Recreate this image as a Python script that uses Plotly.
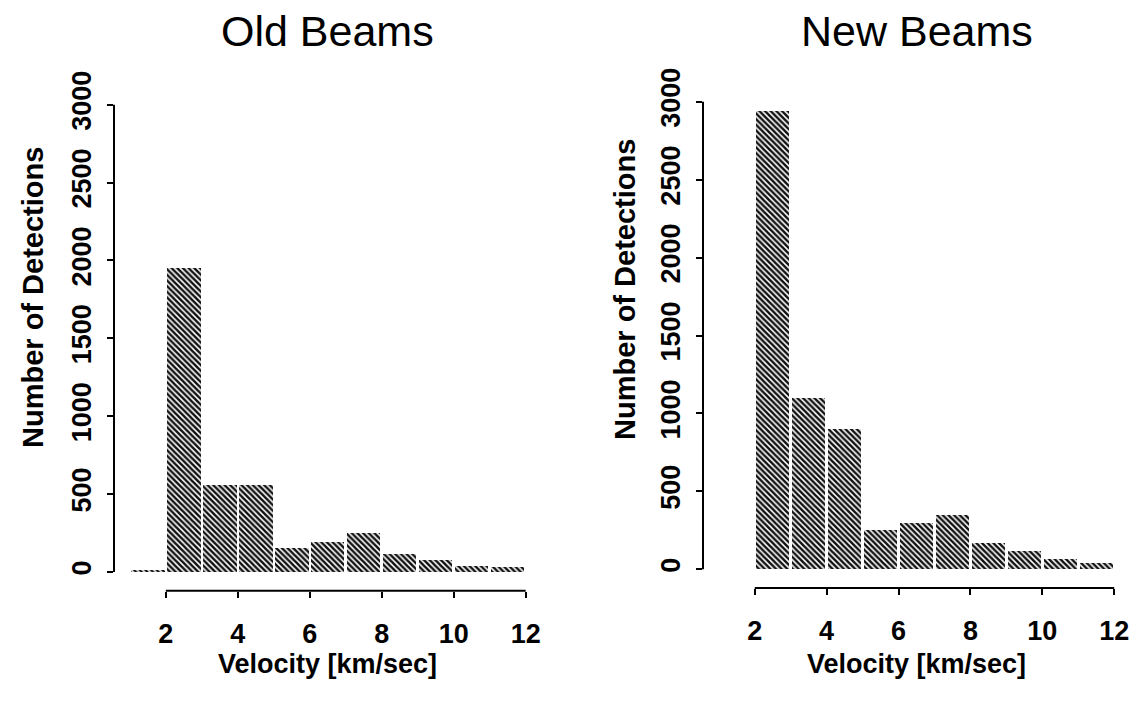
import plotly.graph_objects as go

# ---- data ----
old_bin_edges = [1, 2, 3, 4, 5, 6, 7, 8, 9, 10, 11, 12]
old_counts = [15, 1950, 560, 560, 152, 195, 250, 118, 75, 37, 32]

new_bin_edges = [2, 3, 4, 5, 6, 7, 8, 9, 10, 11, 12]
new_counts = [2940, 1100, 898, 250, 295, 348, 167, 117, 64, 42]

x_ticks = [2, 4, 6, 8, 10, 12]
y_ticks = [0, 500, 1000, 1500, 2000, 2500, 3000]

titles = ["Old Beams", "New Beams"]
x_title = "Velocity [km/sec]"
y_title = "Number of Detections"

# ---- styling ----
FONT = "Liberation Sans"
X_RANGE = [0.56, 12.44]
Y_RANGE = [-120, 3120]
W, H = 1139, 704


def centers(edges):
    return [(a + b) / 2 for a, b in zip(edges[:-1], edges[1:])]


def widths(edges):
    return [b - a for a, b in zip(edges[:-1], edges[1:])]


bar_marker = dict(
    color="#111111",
    line=dict(width=0),
    pattern=dict(shape="\\", fgcolor="#111111", bgcolor="#ffffff",
                 size=4, solidity=0.62, fillmode="replace"),
)

fig = go.Figure()
fig.add_trace(go.Bar(x=centers(old_bin_edges), y=old_counts,
                     width=[w * 0.93 for w in widths(old_bin_edges)],
                     marker=bar_marker, xaxis="x", yaxis="y", showlegend=False))
fig.add_trace(go.Bar(x=centers(new_bin_edges), y=new_counts,
                     width=[w * 0.93 for w in widths(new_bin_edges)],
                     marker=bar_marker, xaxis="x2", yaxis="y2", showlegend=False))

dom_x1 = [114 / W, 541.5 / W]
dom_x2 = [703 / W, 1130 / W]
dom_y1 = [(H - 590.7) / H, (H - 86) / H]
dom_y2 = [(H - 588) / H, (H - 83) / H]

tickfont = dict(family=FONT, size=27, color="black", weight="bold")
common_x = dict(range=X_RANGE, tickvals=x_ticks, ticks="outside", ticklen=6,
                tickwidth=2, tickcolor="black", showline=False, showgrid=False,
                zeroline=False, tickfont=tickfont, ticklabelstandoff=13,
                automargin=False)
common_y = dict(range=Y_RANGE, tickvals=y_ticks, ticks="outside", ticklen=6,
                tickwidth=2, tickcolor="black", showline=False, showgrid=False,
                zeroline=False, tickfont=tickfont, tickangle=-90,
                ticklabelstandoff=5, automargin=False)

fig.update_layout(
    width=W, height=H,
    margin=dict(l=0, r=0, t=0, b=0, autoexpand=False),
    paper_bgcolor="white", plot_bgcolor="white",
    bargap=0,
    xaxis=dict(domain=dom_x1, anchor="y", **common_x),
    yaxis=dict(domain=dom_y1, anchor="x", **common_y),
    xaxis2=dict(domain=dom_x2, anchor="y2", **common_x),
    yaxis2=dict(domain=dom_y2, anchor="x2", **common_y),
)

shapes = []
for xa, ya in [("x", "y"), ("x2", "y2")]:
    # x axis line from first to last tick
    shapes.append(dict(type="line", xref=xa, yref=ya + " domain",
                       x0=x_ticks[0], x1=x_ticks[-1], y0=0, y1=0,
                       line=dict(color="black", width=2)))
    # y axis line from first to last tick
    shapes.append(dict(type="line", xref=xa + " domain", yref=ya,
                       x0=0, x1=0, y0=y_ticks[0], y1=y_ticks[-1],
                       line=dict(color="black", width=2)))
fig.update_layout(shapes=shapes)

annotations = []
for i, (dx, dy) in enumerate([(dom_x1, dom_y1), (dom_x2, dom_y2)]):
    cx = (dx[0] + dx[1]) / 2
    annotations.append(dict(text=titles[i], xref="paper", yref="paper",
                            x=cx, y=(H - 31) / H, showarrow=False,
                            xanchor="center", yanchor="middle",
                            font=dict(family=FONT, size=43, color="black")))
    annotations.append(dict(text=x_title, xref="paper", yref="paper",
                            x=cx, y=(H - 664) / H, showarrow=False,
                            xanchor="center", yanchor="middle",
                            font=dict(family=FONT, size=27, color="black",
                                      weight="bold")))
    ty_x = (33 if i == 0 else 625) / W
    annotations.append(dict(text=y_title, xref="paper", yref="paper",
                            x=ty_x, y=(H - (298 if i == 0 else 290)) / H,
                            showarrow=False, textangle=-90,
                            xanchor="center", yanchor="middle",
                            font=dict(family=FONT, size=29, color="black",
                                      weight="bold")))
fig.update_layout(annotations=annotations)

fig.write_html("out.html")
